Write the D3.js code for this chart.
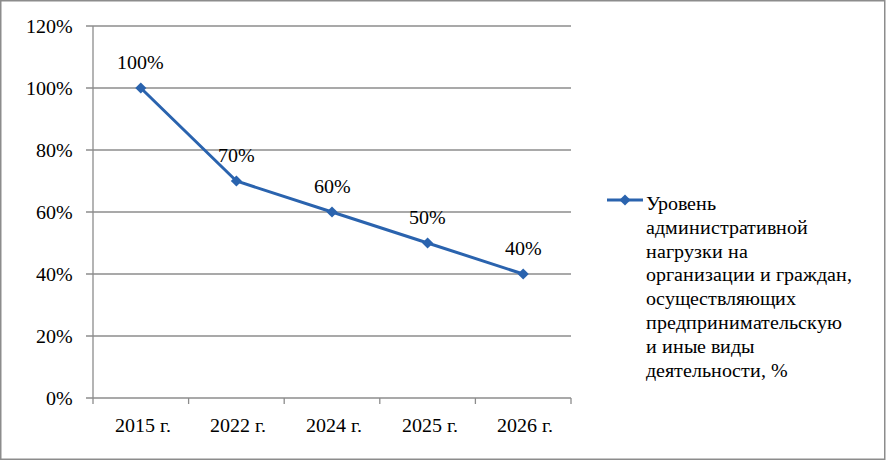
<!DOCTYPE html>
<html>
<head>
<meta charset="utf-8">
<script src="https://cdn.jsdelivr.net/npm/d3@7"></script>
<style>
  @font-face { font-family: "ChartSerif"; src: local("Liberation Serif"), local("LiberationSerif"), local("Liberation Serif Regular"), local("LiberationSerif-Regular"); }
</style>
</head>
<body style="margin:0">
<svg width="886" height="461"></svg>
<script>
var categories = ["2015 г.", "2022 г.", "2024 г.", "2025 г.", "2026 г."];
var values = [100, 70, 60, 50, 40];
var yTicks = [0, 20, 40, 60, 80, 100, 120];
var legendLines = ["Уровень", "административной", "нагрузки на", "организации и граждан,",
    "осуществляющих", "предпринимательскую", "и иные виды", "деятельности, %"];

var svg = d3.select("svg"),
    plotLeft = 93, plotTop = 26, plotRight = 571, plotBottom = 398,
    lineColor = "#2a63ae",
    gridColor = "#8c8c8c";

function label(sel) {
    sel.style("font-family", "ChartSerif, serif")
       .attr("font-size", "19.5px");
}

// frame
svg.append("rect")
    .attr("x", 0.75).attr("y", 0.75)
    .attr("width", 884).attr("height", 458.5)
    .attr("fill", "none").attr("stroke", gridColor).attr("stroke-width", 1.5);

var x = d3.scaleBand().domain(categories).range([plotLeft, plotRight]),
    y = d3.scaleLinear().domain([0, 120]).range([plotBottom, plotTop]);

// gridlines
svg.selectAll(".grid")
    .data(yTicks.filter(function(d) { return d > 0; }))
    .enter().append("line")
    .attr("class", "grid")
    .attr("x1", plotLeft - 7).attr("x2", plotRight)
    .attr("y1", function(d) { return y(d); })
    .attr("y2", function(d) { return y(d); })
    .attr("stroke", gridColor).attr("stroke-width", 1.3);

// y axis
svg.append("line")
    .attr("x1", plotLeft).attr("x2", plotLeft).attr("y1", plotTop).attr("y2", plotBottom)
    .attr("stroke", gridColor).attr("stroke-width", 1.3);

svg.selectAll(".ylab")
    .data(yTicks)
    .enter().append("text")
    .attr("class", "ylab")
    .attr("x", 73)
    .attr("y", function(d) { return y(d) + 7; })
    .attr("text-anchor", "end")
    .call(label)
    .text(function(d) { return d + "%"; });

// x axis
svg.append("line")
    .attr("x1", plotLeft - 7).attr("x2", plotRight).attr("y1", plotBottom).attr("y2", plotBottom)
    .attr("stroke", gridColor).attr("stroke-width", 1.3);

var edges = categories.map(function(c) { return x(c); }).concat([plotRight]);
svg.selectAll(".xtick")
    .data(edges)
    .enter().append("line")
    .attr("class", "xtick")
    .attr("x1", function(d) { return d; }).attr("x2", function(d) { return d; })
    .attr("y1", plotBottom).attr("y2", plotBottom + 6)
    .attr("stroke", gridColor).attr("stroke-width", 1.3);

svg.selectAll(".xlab")
    .data(categories)
    .enter().append("text")
    .attr("class", "xlab")
    .attr("x", function(d) { return x(d) + x.bandwidth() / 2 + 2; })
    .attr("y", 432)
    .attr("text-anchor", "middle")
    .call(label)
    .text(function(d) { return d; });

// series
var pts = categories.map(function(c, i) {
    return { cx: x(c) + x.bandwidth() / 2, cy: y(values[i]), v: values[i] };
});

svg.append("path")
    .datum(pts)
    .attr("fill", "none")
    .attr("stroke", lineColor)
    .attr("stroke-width", 3)
    .attr("d", d3.line().x(function(d) { return d.cx; }).y(function(d) { return d.cy; }));

var diamond = d3.symbol().type(d3.symbolSquare).size(62);
svg.selectAll(".marker")
    .data(pts)
    .enter().append("path")
    .attr("class", "marker")
    .attr("transform", function(d) { return "translate(" + d.cx + "," + d.cy + ") rotate(45)"; })
    .attr("d", diamond)
    .attr("fill", lineColor);

svg.selectAll(".vlab")
    .data(pts)
    .enter().append("text")
    .attr("class", "vlab")
    .attr("x", function(d) { return d.cx; })
    .attr("y", function(d) { return d.cy - 19; })
    .attr("text-anchor", "middle")
    .call(label)
    .text(function(d) { return d.v + "%"; });

// legend
var ly = 200;
svg.append("line")
    .attr("x1", 607).attr("x2", 643).attr("y1", ly).attr("y2", ly)
    .attr("stroke", lineColor).attr("stroke-width", 3);
svg.append("path")
    .attr("transform", "translate(625," + ly + ") rotate(45)")
    .attr("d", diamond)
    .attr("fill", lineColor);

svg.selectAll(".leg")
    .data(legendLines)
    .enter().append("text")
    .attr("class", "leg")
    .attr("x", 646)
    .attr("y", function(d, i) { return 210 + i * 23.8; })
    .call(label)
    .text(function(d) { return d; });
</script>
</body>
</html>
